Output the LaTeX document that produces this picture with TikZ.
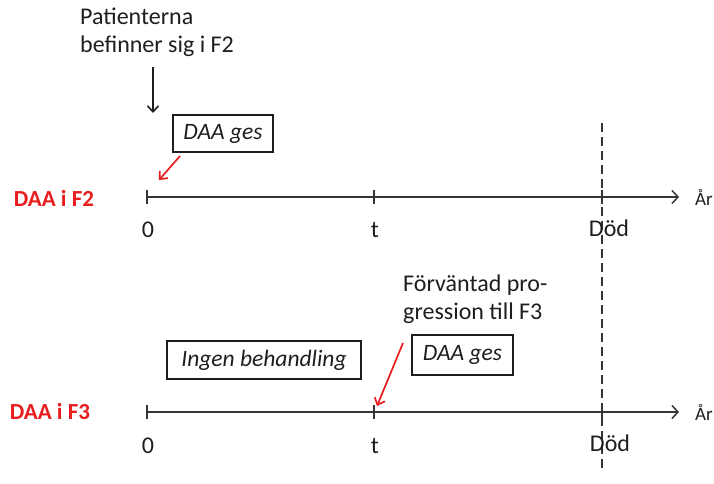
\documentclass[tikz,border=0pt]{standalone}
\usepackage{fontspec}
\setmainfont{Carlito}
\usetikzlibrary{arrows.meta}
\definecolor{dred}{RGB}{232,28,28}
\definecolor{ink}{RGB}{30,30,30}
\begin{document}
\begin{tikzpicture}[x=1pt,y=-1pt,
  txt/.style={inner sep=0pt, text=ink, font=\fontsize{24}{28}\selectfont},
  lbl/.style={inner sep=0pt, text=dred, font=\fontsize{23}{27.6}\selectfont\bfseries},
  boxed/.style={draw=ink, line width=1.3pt, minimum height=38pt, inner xsep=6pt, text=ink, font=\fontsize{23.5}{28}\selectfont\itshape},
  axis/.style={draw=ink!90, line width=1.5pt, -{Straight Barb[length=6pt,width=13pt,line width=1.5pt]}},
  tick/.style={draw=ink!90, line width=1.5pt},
  redarr/.style={draw=dred, line width=1.7pt, -{Straight Barb[length=6pt,width=11pt,line width=1.7pt]}},
  blkarr/.style={draw=ink, line width=1.6pt, -{Straight Barb[length=6pt,width=11pt,line width=1.6pt]}}
]
\useasboundingbox (0,0) rectangle (714,483);
% dashed death line
\coordinate (dtop) at (602,123);
\coordinate (dbot) at (602,472);
\draw[ink!90, line width=1.4pt, dash pattern=on 9pt off 5pt] (dtop) -- (dbot);

% timeline 1
\coordinate (a0) at (147,197);
\coordinate (a1) at (679,197);
\coordinate (at) at (374,197);
\coordinate (ad) at (602,197);
\draw[axis] (a0) -- (a1);
\foreach \c in {a0,at,ad} \draw[tick] ([yshift=-7pt]\c) -- ([yshift=7pt]\c);
\node[txt, font=\fontsize{19}{22}\selectfont] (ar1) at (704,197) {År};
\node[txt] (z1) at (148,230) {0};
\node[txt] (t1) at (375,230) {t};
\node[txt] (dod1) at (609,228) {Död};
\node[lbl] (f2) at (54,198) {DAA i F2};

% patient text and arrow
\node[txt, align=left, anchor=north west] (pat) at (80,8) {Patienterna\\befinner sig i F2};
\coordinate (pa) at (153,67);
\coordinate (pb) at (153,113);
\draw[blkarr] (pa) -- (pb);
\node[boxed, minimum width=100pt, minimum height=37pt] (g1) at (223,133.5) {DAA ges};
\coordinate (r1s) at (180,156);
\coordinate (r1e) at (159,180);
\draw[redarr] (r1s) -- (r1e);

% timeline 2
\coordinate (b0) at (147,412);
\coordinate (b1) at (679,412);
\coordinate (bt) at (374,412);
\coordinate (bd) at (602,412);
\draw[axis] (b0) -- (b1);
\foreach \c in {b0,bt,bd} \draw[tick] ([yshift=-7pt]\c) -- ([yshift=7pt]\c);
\node[txt, font=\fontsize{19}{22}\selectfont] (ar2) at (704,412) {År};
\node[txt] (z2) at (148,446) {0};
\node[txt] (t2) at (375,446) {t};
\node[txt] (dod2) at (610,443) {Död};
\node[lbl] (f3) at (50,411) {DAA i F3};

\node[boxed, minimum width=194pt] (ing) at (264,360) {Ingen behandling};
\node[txt, align=left, anchor=north west] (forv) at (403,275) {Förväntad pro-\\gression till F3};
\node[boxed, minimum width=101pt, minimum height=40pt] (g2) at (462.5,355) {DAA ges};
\coordinate (r2s) at (403,343);
\coordinate (r2e) at (377,406);
\draw[redarr] (r2s) -- (r2e);
\end{tikzpicture}
\end{document}
